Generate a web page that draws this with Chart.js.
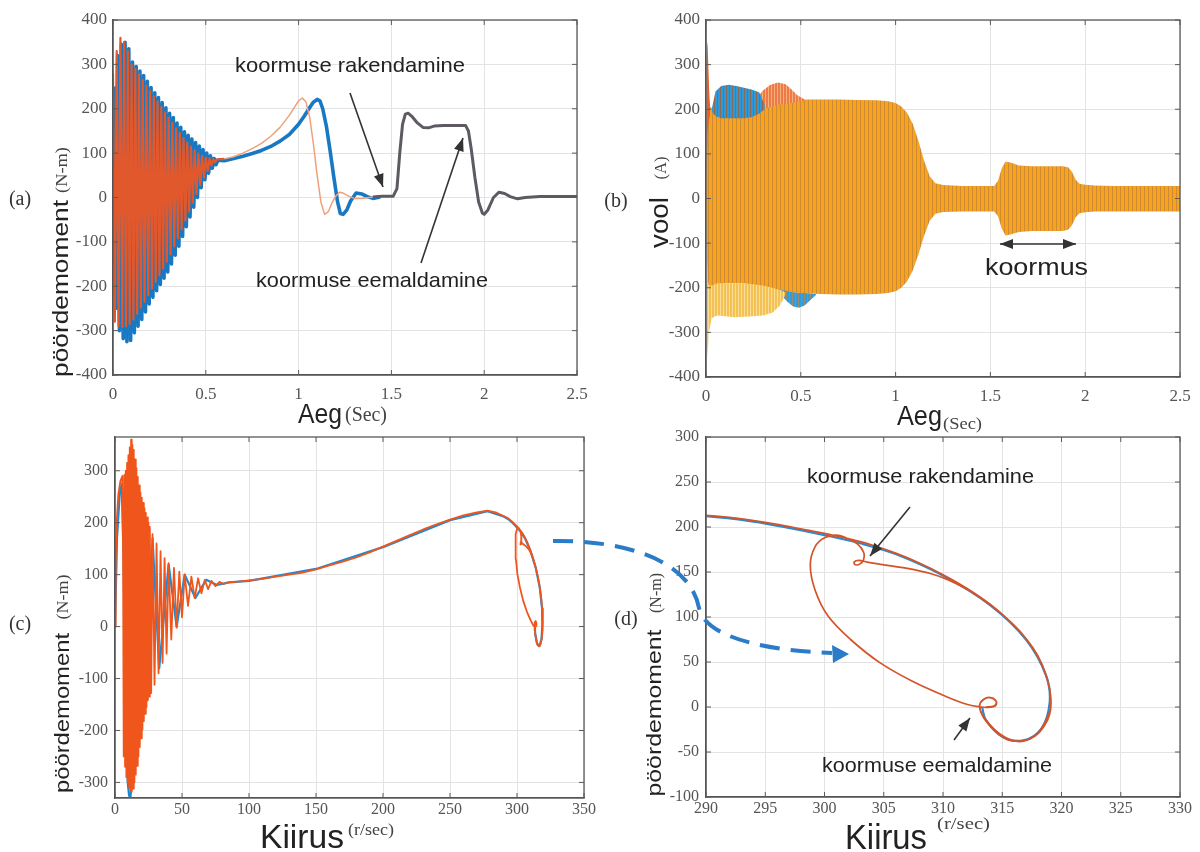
<!DOCTYPE html>
<html><head><meta charset="utf-8">
<script src="https://cdn.jsdelivr.net/npm/chart.js@4.4.1/dist/chart.umd.min.js"></script>
<style>
html,body{margin:0;padding:0;background:#fff;}
#wrap{position:relative;width:1200px;height:852px;overflow:hidden;background:#fff;}
canvas{position:absolute;}
</style></head><body>
<div id="wrap">
<canvas id="ca"></canvas><canvas id="cb"></canvas><canvas id="cc"></canvas><canvas id="cd"></canvas>
<canvas id="ov" width="1200" height="852" style="left:0;top:0;width:1200px;height:852px;pointer-events:none"></canvas>
</div>
<script>
// ================= DATA =================
// (a) torque vs time. Oscillating start: one value per half cycle (every 0.01 s)
const aOrangeOscStart = 0.0, aBlueOscStart = 0.005, aOscStep = 0.01;
const aOrangeOsc = [280,-280,330,-290,360,-292,350,-290,330,-285,300,-275,290,-262,278,-248,265,-235,252,-220,240,-205,228,-190,216,-175,204,-160,192,-145,180,-128,168,-110,156,-92,145,-72,134,-52,124,-32,114,-12,106,8,99,28,94,45,90,60,88,72,86,80,86];
const aBlueOsc = [250,-250,320,-300,345,-318,350,-325,335,-322,305,-305,295,-290,285,-275,275,-258,262,-240,248,-225,236,-210,225,-196,214,-182,202,-168,190,-150,180,-130,168,-110,158,-88,148,-66,140,-44,132,-22,124,0,116,22,108,40,100,55,94,66,88,74,84];
const aOrangeT = [0.6,0.65,0.7,0.75,0.8,0.85,0.9,0.95,0.98,1.0,1.02,1.04,1.06,1.08,1.1,1.12,1.14,1.16,1.18,1.2,1.22,1.24,1.27,1.3,1.34,1.38,1.42];
const aOrangeV = [87,92,100,110,122,138,158,185,205,218,224,215,180,120,50,-10,-38,-32,-12,3,12,10,3,-2,-2,0,2];
const aBlueT = [0.6,0.65,0.7,0.75,0.8,0.85,0.9,0.95,1.0,1.03,1.06,1.08,1.1,1.115,1.13,1.15,1.17,1.19,1.21,1.225,1.24,1.26,1.28,1.31,1.34,1.37,1.4,1.44];
const aBlueV = [83,88,93,99,106,115,127,142,165,183,203,215,221,218,200,160,105,45,-10,-36,-38,-28,-8,10,8,2,-2,1];
const aCommonT = [1.4,1.45,1.51,1.53,1.545,1.56,1.575,1.59,1.61,1.64,1.67,1.7,1.73,1.78,1.85,1.9,1.915,1.93,1.95,1.97,1.99,2.0,2.02,2.05,2.08,2.11,2.14,2.18,2.22,2.3,2.4,2.5];
const aCommonV = [1,3,3,20,100,165,188,190,183,168,158,157,161,162,162,162,150,110,45,-10,-35,-38,-28,0,12,9,2,-3,0,2,2,2];

// (b) current envelopes (upper / lower edge of the dense three-phase band)
const bT  = [0,0.008,0.02,0.05,0.1,0.2,0.3,0.4,0.5,0.6,0.7,0.8,0.9,0.96,1.0,1.03,1.06,1.09,1.12,1.15,1.18,1.21,1.25,1.35,1.45,1.52,1.54,1.56,1.58,1.61,1.65,1.72,1.8,1.88,1.91,1.93,1.95,1.97,2.0,2.05,2.15,2.3,2.5];
const bUp = [0,190,205,200,185,185,205,215,222,222,222,221,220,218,214,206,192,168,130,85,50,34,30,28,28,28,40,68,83,80,74,72,72,72,70,60,42,33,31,29,28,28,28];
const bLo = [0,-200,-205,-195,-190,-190,-200,-210,-212,-214,-215,-215,-214,-212,-208,-200,-186,-162,-126,-84,-50,-34,-30,-29,-29,-29,-40,-68,-83,-80,-75,-73,-73,-73,-70,-60,-42,-33,-31,-29,-29,-29,-29];
const bSpikeT = [0,0.003,0.006,0.009,0.013,0.018,0.022];
const bSpikeUp = [0,300,352,340,290,230,205];
const bSpikeLo = [0,0,100,150,170,180,190];
const bBlueTopT = [0.03,0.05,0.08,0.12,0.16,0.2,0.24,0.28,0.31];
const bBlueTopUp = [200,240,252,255,252,248,244,238,210];
const bBlueTopLo = [195,185,180,180,180,180,182,190,200];
const bRedTopT = [0.27,0.3,0.34,0.38,0.42,0.45,0.48,0.52];
const bRedTopUp = [225,242,255,260,256,245,232,222];
const bRedTopLo = [200,200,205,210,212,214,216,218];
const bYelT = [0.004,0.008,0.015,0.03,0.06,0.1,0.15,0.2,0.25,0.3,0.35,0.39,0.42];
const bYelUp = [-150,-180,-195,-195,-190,-190,-190,-190,-192,-195,-200,-205,-210];
const bYelLo = [-300,-355,-300,-268,-262,-264,-266,-265,-264,-262,-256,-240,-215];
const bBlueBotT = [0.4,0.43,0.46,0.49,0.52,0.55,0.58];
const bBlueBotUp = [-205,-208,-210,-212,-212,-213,-214];
const bBlueBotLo = [-218,-232,-242,-245,-240,-228,-216];

// (c)/(d) torque vs speed trajectory (orange run)
const cOscSpeed  = [0,0.5,1.2,2.5,4,5.5,6,6.5,7,7.5,8,8.5,9,9.5,10,10.5,11,11.5,12,12.5,13,13.5,14,14.5,15,15.5,16,16.5,17,17.5,18,18.5,19,19.5,20,20.5,21,21.5,22,22.5,23,23.5,24,24.5,25,25.5,26,27,28,29.5,31,32.5,34,35.5,37,38.5,40,42,44,46,48,50,52,54.5,57,59.5,62,64.5,67,69.5,72,75,78,81];
const cOscTorque = [0,120,200,255,280,290,150,-250,292,-270,300,-290,315,-300,330,-310,345,-316,360,-318,350,-312,340,-300,322,-285,305,-268,288,-250,272,-232,258,-215,248,-198,238,-182,228,-168,219,-155,210,-142,200,-135,192,-128,178,-112,160,-90,145,-70,132,-52,122,-25,113,-2,106,18,100,40,96,55,93,64,90,72,88,78,86,82];
const cRiseSpeed  = [85,90,100,110,120,130,140,150,160,170,180,190,200,210,220,230,240,250,260,270,278,284,290,293,296,298,300];
const cRiseTorque = [85,86,89,92,96,100,104,110,118,125,133,143,154,165,176,187,197,206,214,220,223,220,213,209,203,198,193];
const dStartSpeed  = [302,304,306,308,310,312,314,315.5,317,318,318.7,319.1,319,318.5,317.8,316.8,315.8,314.8,313.9,313.3,313.1,313.4,314,314.5,314.4,313.7,313.2];
const dStartTorque = [187,180,171,160,147,132,114,97,76,57,35,10,-8,-22,-32,-38,-37,-30,-19,-8,2,8,10.5,6,1,-0.5,0];
const dLoadSpeed  = [312,310.2,307.5,304.7,302.2,300.3,299.2,298.8,299.2,300,301,302,302.8,303.3,303.3,303,302.6,302.5,302.9,303.6];
const dLoadTorque = [3,12,28,49,75,101,130,158,178,188,191,187,181,172,164,159,158,161,163,161];
const dUnloadSpeed  = [305,307,309,310.5,312,313.5,315,316.5,317.7,318.5,319,319.1,318.8,318.2,317.4,316.4,315.4,314.5,313.7,313.2,313.1,313.4,314,314.5,314.3,313.6];
const dUnloadTorque = [158,154,148,141,131,118,103,84,63,42,20,2,-12,-26,-35,-38,-36,-28,-17,-6,3,8.5,10.5,6,1,0];
// blue run (mostly hidden beneath the orange one)
const cBlueSpeed  = [0,1.5,3.5,5,6.5,8,9.5,10.5,11.5,12.5,13.5,15,17,20,24,28,33,40,46,52,60,68,76,85,100,150,200,250,278,290,294,297,300,303,306,310,314,317,318.7,319,318.3,316.8,315,313.6,313.3];
const cBlueTorque = [0,170,255,275,120,-200,-300,-325,-330,-300,-100,200,-200,220,-140,170,-80,120,0,100,55,90,80,85,88,111,153,205,222,212,206,199,191,182,170,146,113,75,35,5,-24,-37,-33,-14,0];

// axis ranges and tick values
const aXRange = [0, 2.5],  aYRange = [-400, 400];
const bXRange = [0, 2.5],  bYRange = [-400, 400];
const cXRange = [0, 350],  cYRange = [-330, 365];
const dXRange = [290, 330], dYRange = [-100, 300];
const aXTicks = [0,0.5,1,1.5,2,2.5], aYTicks = [-400,-300,-200,-100,0,100,200,300,400];
const bXTicks = [0,0.5,1,1.5,2,2.5], bYTicks = [-400,-300,-200,-100,0,100,200,300,400];
const cXTicks = [0,50,100,150,200,250,300,350], cYTicks = [-300,-200,-100,0,100,200,300];
const dXTicks = [290,295,300,305,310,315,320,325,330], dYTicks = [-100,-50,0,50,100,150,200,250,300];

// ================= HELPERS =================
const pts = (xs, ys) => xs.map((x, i) => ({x, y: ys[i]}));
const oscPts = (start, step, vals) => vals.map((v, i) => ({x: +(start + i*step).toFixed(4), y: v}));
const GRID = '#e3e3e3', AXIS = '#4a4a4a', TICKCOL = '#555';

function stripes(base, line, period, lw) {
  const c = document.createElement('canvas'); c.width = period; c.height = 4;
  const x = c.getContext('2d'); x.fillStyle = base; x.fillRect(0,0,period,4);
  x.fillStyle = line; x.fillRect(0,0,lw,4); return x.createPattern(c,'repeat');
}

const boxPlugin = {
  id: 'box',
  afterDraw(chart) {
    const {ctx, chartArea: a, scales} = chart;
    ctx.save();
    ctx.strokeStyle = '#5a5a5a'; ctx.lineWidth = 1.3;
    ctx.strokeRect(a.left, a.top, a.right - a.left, a.bottom - a.top);
    ctx.lineWidth = 1;
    scales.x.ticks.forEach(t => { const p = scales.x.getPixelForValue(t.value);
      ctx.beginPath(); ctx.moveTo(p, a.bottom); ctx.lineTo(p, a.bottom - 5); ctx.moveTo(p, a.top); ctx.lineTo(p, a.top + 5); ctx.stroke(); });
    scales.y.ticks.forEach(t => { const p = scales.y.getPixelForValue(t.value);
      ctx.beginPath(); ctx.moveTo(a.left, p); ctx.lineTo(a.left + 5, p); ctx.moveTo(a.right, p); ctx.lineTo(a.right - 5, p); ctx.stroke(); });
    ctx.restore();
  }
};

function mkChart(id, box, area, xr, yr, xt, yt, datasets, tk) {
  const cv = document.getElementById(id);
  cv.width = box.w; cv.height = box.h;
  Object.assign(cv.style, {left: box.l+'px', top: box.t+'px', width: box.w+'px', height: box.h+'px'});
  const yW = area.l - box.l, xH = box.t + box.h - area.b;
  const font = {family: '"Liberation Serif", "Times New Roman", serif', size: tk.size};
  const fmt = v => String(v);
  return new Chart(cv, {
    type: 'line',
    data: {datasets},
    options: {
      responsive: false, animation: false, events: [], devicePixelRatio: 1,
      layout: {padding: {left: 0, top: area.t - box.t, right: box.l + box.w - area.r, bottom: 0}},
      plugins: {legend: {display: false}, tooltip: {enabled: false}},
      elements: {point: {radius: 0}, line: {tension: tk.tension || 0, borderJoinStyle: 'round'}},
      scales: {
        x: {type: 'linear', min: xr[0], max: xr[1],
          grid: {color: GRID, drawTicks: false}, border: {color: AXIS, width: 1.3},
          ticks: {font, color: TICKCOL, padding: tk.xpad, maxRotation: 0, autoSkip: false, callback: fmt},
          afterBuildTicks(s) { s.ticks = xt.map(v => ({value: v})); },
          afterFit(s) { s.height = xH; s.paddingLeft = 0; s.paddingRight = 0; }},
        y: {type: 'linear', min: yr[0], max: yr[1],
          grid: {color: GRID, drawTicks: false}, border: {color: AXIS, width: 1.3},
          ticks: {font, color: TICKCOL, padding: tk.ypad, autoSkip: false, callback: fmt},
          afterBuildTicks(s) { s.ticks = yt.map(v => ({value: v})); },
          afterFit(s) { s.width = yW; s.paddingTop = 0; s.paddingBottom = 0; }}
      }
    },
    plugins: [boxPlugin]
  });
}

const line = (data, color, width, extra) => Object.assign({data, borderColor: color, borderWidth: width, pointRadius: 0, fill: false}, extra || {});
const bandLo = (xs, ys) => ({data: pts(xs, ys), borderWidth: 0, pointRadius: 0, fill: false});
const bandUp = (xs, ys, bg) => ({data: pts(xs, ys), borderWidth: 0, pointRadius: 0, fill: '-1', backgroundColor: bg});

// ================= (a) =================
mkChart('ca', {l:0,t:0,w:600,h:430}, {l:113,t:20,r:577,b:375}, aXRange, aYRange, aXTicks, aYTicks, [
  line(pts(aCommonT, aCommonV), '#5f5a62', 3),
  line(oscPts(aOrangeOscStart, aOscStep, aOrangeOsc).concat(pts(aOrangeT, aOrangeV)), '#e0582c', 2.2,
       {segment: {borderColor: c => c.p0.parsed.x > 0.57 ? '#f0a07a' : undefined, borderWidth: c => c.p0.parsed.x > 0.57 ? 1.5 : undefined}}),
  line(oscPts(aBlueOscStart, aOscStep, aBlueOsc).concat(pts(aBlueT, aBlueV)), '#1878c2', 3.6)
], {size: 17, xpad: 9, ypad: 6});

// ================= (b) =================
mkChart('cb', {l:600,t:0,w:600,h:430}, {l:706,t:20,r:1180,b:377}, bXRange, bYRange, bXTicks, bYTicks, [
  bandLo(bSpikeT, bSpikeLo), bandUp(bSpikeT, bSpikeUp, '#e5602c'),
  bandLo(bBlueTopT, bBlueTopLo), bandUp(bBlueTopT, bBlueTopUp, stripes('#2f98d8', '#8a6a50', 3, 1)),
  bandLo(bRedTopT, bRedTopLo), bandUp(bRedTopT, bRedTopUp, stripes('#ee7a4a', '#f4b078', 3, 1)),
  bandLo(bYelT, bYelUp), bandUp(bYelT, bYelLo, stripes('#f4c252', '#f9dd98', 3, 1)),
  bandLo(bBlueBotT, bBlueBotUp), bandUp(bBlueBotT, bBlueBotLo, stripes('#2f9ddc', '#9a8a70', 3, 1)),
  bandLo(bT, bLo), bandUp(bT, bUp, stripes('#f7a31e', '#cf8a34', 4, 1))
], {size: 17, xpad: 9, ypad: 6});

// ================= (c) =================
const orangeTraj = pts(cOscSpeed, cOscTorque).concat(pts(cRiseSpeed, cRiseTorque), pts(dStartSpeed, dStartTorque), pts(dLoadSpeed, dLoadTorque), pts(dUnloadSpeed, dUnloadTorque));
const blueTraj = pts(cBlueSpeed, cBlueTorque);
mkChart('cc', {l:0,t:430,w:600,h:422}, {l:115,t:437,r:584,b:798}, cXRange, cYRange, cXTicks, cYTicks, [
  line(orangeTraj, '#f0561c', 1.8),
  line(blueTraj, '#1e88d0', 2.2)
], {size: 16, xpad: 2, ypad: 7});

// ================= (d) =================
mkChart('cd', {l:600,t:430,w:600,h:422}, {l:706,t:437,r:1180,b:797}, dXRange, dYRange, dXTicks, dYTicks, [
  line(orangeTraj, '#d4542a', 1.7),
  line(blueTraj, '#2a8ad0', 2.2)
], {size: 16, xpad: 2, ypad: 7, tension: 0.35});

// ================= overlay: titles & annotations =================
const ov = document.getElementById('ov').getContext('2d');
const SANS = '"Liberation Sans", Arial, sans-serif', SERIF = '"Liberation Serif", "Times New Roman", serif';
function txt(s, o) {
  ov.save(); ov.font = o.font; const m = ov.measureText(s).width;
  ov.translate(o.x, o.y); if (o.rot) ov.rotate(o.rot);
  ov.scale(o.w ? o.w / m : 1, 1);
  ov.textAlign = o.align || 'left'; ov.textBaseline = o.base || 'alphabetic';
  ov.fillStyle = o.color || '#222'; ov.fillText(s, 0, 0); ov.restore();
}
function arrow(x0, y0, x1, y1, both) {
  ov.save(); ov.strokeStyle = '#333'; ov.fillStyle = '#333'; ov.lineWidth = 1.6;
  const head = (xa, ya, xb, yb) => { const a = Math.atan2(yb - ya, xb - xa), L = 13, W = 5;
    ov.beginPath(); ov.moveTo(xb, yb);
    ov.lineTo(xb - L*Math.cos(a) + W*Math.sin(a), yb - L*Math.sin(a) - W*Math.cos(a));
    ov.lineTo(xb - L*Math.cos(a) - W*Math.sin(a), yb - L*Math.sin(a) + W*Math.cos(a));
    ov.closePath(); ov.fill(); };
  ov.beginPath(); ov.moveTo(x0, y0); ov.lineTo(x1, y1); ov.stroke();
  head(x0, y0, x1, y1); if (both) head(x1, y1, x0, y0);
  ov.restore();
}
const R = -Math.PI / 2;
[['(a)',20,205],['(b)',616,207],['(c)',20,630],['(d)',626,625]].forEach(([s,x,y]) => txt(s, {x, y, font: '20px ' + SERIF, color: '#333', align: 'center'}));
txt('pöördemoment', {x: 62, y: 288.5, rot: R, font: '22px ' + SANS, w: 177, align: 'center', base: 'middle'});
txt('(N-m)', {x: 63, y: 170, rot: R, font: '16px ' + SERIF, w: 46, align: 'center', base: 'middle', color: '#444'});
txt('vool', {x: 661, y: 222.5, rot: R, font: '26px ' + SANS, w: 51, align: 'center', base: 'middle'});
txt('(A)', {x: 662, y: 168, rot: R, font: '16px ' + SERIF, w: 23, align: 'center', base: 'middle', color: '#444'});
txt('pöördemoment', {x: 63, y: 713, rot: R, font: '21px ' + SANS, w: 160, align: 'center', base: 'middle'});
txt('(N-m)', {x: 64, y: 597, rot: R, font: '16px ' + SERIF, w: 45, align: 'center', base: 'middle', color: '#444'});
txt('pöördemoment', {x: 655, y: 713, rot: R, font: '21px ' + SANS, w: 167, align: 'center', base: 'middle'});
txt('(N-m)', {x: 657, y: 593, rot: R, font: '16px ' + SERIF, w: 40, align: 'center', base: 'middle', color: '#444'});
txt('Aeg', {x: 298, y: 423, font: '28px ' + SANS, w: 44});
txt('(Sec)', {x: 345, y: 421, font: '20px ' + SERIF, w: 42, color: '#444'});
txt('Aeg', {x: 897, y: 425, font: '28px ' + SANS, w: 45});
txt('(Sec)', {x: 943, y: 429, font: '17px ' + SERIF, w: 39, color: '#444'});
txt('Kiirus', {x: 260, y: 848, font: '33px ' + SANS, w: 84});
txt('(r/sec)', {x: 348, y: 835, font: '16px ' + SERIF, w: 46, color: '#444'});
txt('Kiirus', {x: 845, y: 849, font: '35px ' + SANS, w: 82});
txt('(r/sec)', {x: 937, y: 829, font: '17px ' + SERIF, w: 53, color: '#444'});
txt('koormuse rakendamine', {x: 235, y: 72, font: '21px ' + SANS, w: 230});
txt('koormuse eemaldamine', {x: 256, y: 287, font: '21px ' + SANS, w: 232});
arrow(350, 93, 383, 187);
arrow(421, 263, 463, 138);
txt('koormus', {x: 985, y: 275, font: '24px ' + SANS, w: 103});
arrow(1000, 244, 1076, 244, true);
txt('koormuse rakendamine', {x: 807, y: 483, font: '21px ' + SANS, w: 227});
txt('koormuse eemaldamine', {x: 822, y: 772, font: '21px ' + SANS, w: 230});
arrow(910, 507, 870, 556);
arrow(954, 740, 970, 718);
ov.save(); ov.strokeStyle = '#2a7cc8'; ov.lineWidth = 4; ov.setLineDash([20, 11]);
ov.beginPath(); ov.moveTo(553, 541);
ov.bezierCurveTo(625, 540, 690, 560, 699, 608);
ov.bezierCurveTo(706, 640, 775, 651, 832, 653);
ov.stroke(); ov.setLineDash([]); ov.fillStyle = '#2a7cc8';
ov.beginPath(); ov.moveTo(849, 654); ov.lineTo(832, 645); ov.lineTo(833, 663); ov.closePath(); ov.fill();
ov.restore();
</script>
</body></html>
